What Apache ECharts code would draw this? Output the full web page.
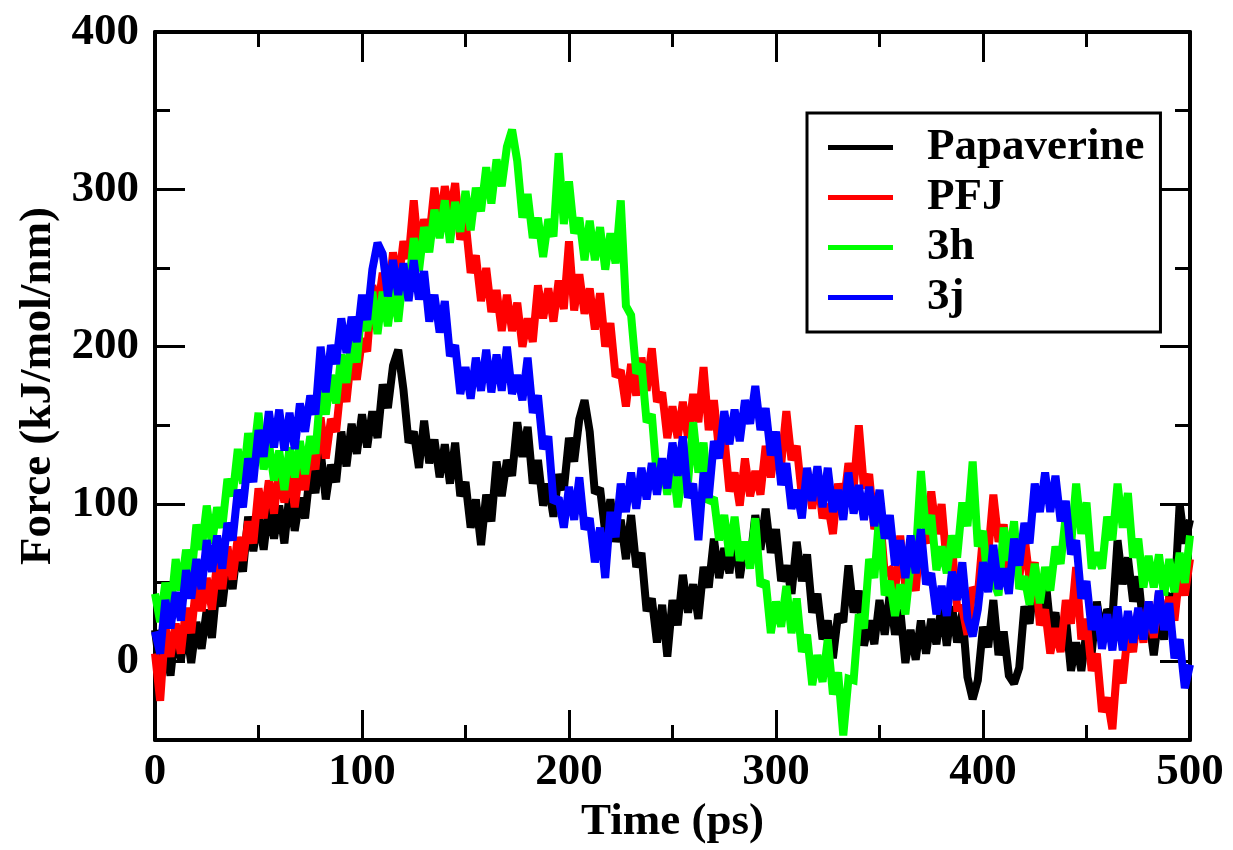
<!DOCTYPE html>
<html>
<head>
<meta charset="utf-8">
<script src="https://cdn.jsdelivr.net/npm/echarts@6/dist/echarts.min.js"></script>
<style>
html,body{margin:0;padding:0;background:#fff;}
#chart{width:1233px;height:850px;}
</style>
</head>
<body>
<div id="chart"></div>
<script>
// Sampling step of the time axis (ps)
const STEP = 2.5;
const SERIES_NAMES = ["Papaverine", "PFJ", "3h", "3j"];
const Y_MAJOR = [0, 100, 200, 300, 400];
const Y_MINOR = [50, 150, 250, 350];

const PAPAVERINE = [
20,-6,11,-9,22,1,22,-1,25,8,
33,15,50,35,63,46,75,57,92,70,
92,71,99,78,99,75,107,83,104,91,
122,107,134,103,125,114,146,124,151,132,
157,136,159,142,176,161,188,198,173,139,
146,123,153,126,141,117,138,113,139,105,
114,85,103,74,106,89,127,105,128,118,
152,130,149,113,128,99,113,92,119,109,
142,127,154,166,146,107,110,82,103,76,
90,65,93,60,69,32,40,12,36,3,
39,23,55,31,49,27,60,47,78,53,
72,56,82,53,75,63,93,71,97,69,
84,51,61,43,76,51,68,31,43,14,
26,2,30,25,61,31,45,10,26,11,
39,17,43,17,33,-1,20,1,26,5,
27,11,36,10,35,12,31,-10,-24,-12,
22,9,39,4,19,-9,-14,-4,35,24,
53,28,55,22,31,7,28,-6,12,-6,
19,5,38,15,33,27,77,49,66,38,
54,21,29,4,30,14,41,39,100,75,
90];

const PFJ = [
5,-25,22,3,24,5,34,18,50,32,
53,33,63,46,73,52,79,64,89,75,
110,91,115,94,123,101,121,98,123,109,
135,122,155,129,154,146,179,165,197,179,
205,197,239,223,247,229,260,239,267,256,
293,257,281,269,301,277,302,283,304,268,
280,247,258,229,250,222,236,210,233,210,
228,200,218,203,239,218,237,216,242,224,
267,223,246,221,237,211,234,200,215,181,
185,162,189,169,193,172,199,165,171,142,
162,142,165,142,170,152,187,147,166,134,
143,108,120,99,129,105,121,106,137,117,
140,125,159,128,137,105,122,97,120,91,
100,81,113,98,126,110,150,110,119,84,
97,56,58,44,80,47,56,45,83,75,
108,81,100,61,74,34,34,17,47,42,
80,68,106,76,87,56,74,53,80,52,
63,23,33,5,21,6,39,24,60,14,
27,-6,5,-32,-23,-43,1,-14,20,6,
33,12,38,15,44,22,41,26,57,42,
65];

const C3H = [
43,25,50,31,65,45,71,53,87,71,
99,75,98,85,116,105,135,113,145,129,
158,122,139,115,134,109,136,117,140,119,
143,132,173,157,182,164,195,177,206,190,
228,210,235,208,235,213,237,216,247,236,
269,248,276,260,287,269,293,266,292,273,
299,274,301,286,314,291,319,302,327,338,
318,282,297,269,282,257,281,270,323,278,
305,272,282,255,280,255,276,249,272,253,
293,226,220,183,189,152,157,116,128,106,
128,98,119,114,152,120,139,101,104,77,
93,67,92,64,76,59,91,48,51,18,
38,22,48,18,40,6,17,-15,4,-13,
14,-21,-7,-47,-11,-12,30,21,65,53,
95,42,51,29,49,30,61,66,121,81,
93,58,73,56,80,66,101,86,127,73,
83,46,52,42,85,64,89,46,54,36,
62,37,60,45,73,62,93,73,113,81,
101,59,69,59,92,77,113,85,107,66,
78,47,67,47,68,42,65,44,69,50,
80];

const C3J = [
19,5,39,21,44,26,58,40,65,46,
77,57,80,59,88,77,109,98,129,114,
147,130,159,136,160,134,158,135,164,146,
169,157,200,171,201,189,218,196,219,203,
233,217,249,266,259,232,255,233,253,229,
255,230,248,216,233,209,229,194,201,170,
187,167,193,172,198,171,195,172,200,170,
182,166,193,158,169,135,143,101,104,85,
111,90,117,84,91,63,85,53,95,79,
113,95,120,97,123,103,126,106,129,110,
139,118,143,104,113,77,120,104,140,129,
159,138,160,140,166,151,175,147,161,131,
146,112,126,97,109,91,123,102,124,98,
123,95,109,90,120,94,112,90,111,86,
109,78,93,61,77,53,80,56,84,49,
56,30,48,29,57,39,63,27,16,33,
63,44,74,46,59,43,78,61,88,75,
113,95,120,95,118,89,102,68,77,40,
51,20,35,8,30,7,35,7,32,12,
34,14,38,18,45,20,37,2,14,-17,
-2];

const VALUES = [PAPAVERINE, PFJ, C3H, C3J];
const COLORS = ["#000000", "#ff0000", "#00ff00", "#0000ff"];

const FONT = "'Liberation Serif', 'Times New Roman', serif";

function pairs(arr) { return arr.map((v, i) => [i * STEP, v]); }

const chart = echarts.init(document.getElementById('chart'), null, {renderer: 'canvas'});

const axisLine = {show: true, onZero: false, lineStyle: {color: '#000', width: 4}};
const tickStyle = {color: '#000', width: 3};

function xAxisDef(pos, showLabel) {
  return {
    type: 'value', position: pos, min: 0, max: 500, interval: 100,
    axisLine: axisLine,
    axisTick: {show: true, inside: true, length: 30, lineStyle: tickStyle},
    minorTick: {show: true, splitNumber: 2, length: 15, lineStyle: tickStyle},
    splitLine: {show: false}, minorSplitLine: {show: false},
    axisLabel: {show: showLabel, margin: 10, color: '#000', fontFamily: FONT, fontWeight: 'bold', fontSize: 45},
    name: showLabel ? 'Time (ps)' : '', nameLocation: 'middle', nameGap: 44,
    nameTextStyle: {color: '#000', fontFamily: FONT, fontWeight: 'bold', fontSize: 45}
  };
}
function yAxisDef(pos, major, showLabel, lineShow) {
  return {
    type: 'value', position: pos, min: -50, max: 400,
    axisLine: Object.assign({}, axisLine, {show: lineShow}),
    axisTick: {show: true, inside: true, length: major ? 30 : 15, customValues: major ? Y_MAJOR : Y_MINOR, lineStyle: tickStyle},
    splitLine: {show: false},
    axisLabel: {show: showLabel, customValues: Y_MAJOR, margin: 16, color: '#000', fontFamily: FONT, fontWeight: 'bold', fontSize: 45},
    name: showLabel ? 'Force (kJ/mol/nm)' : '', nameLocation: 'middle', nameGap: 92, nameRotate: 90,
    nameTextStyle: {color: '#000', fontFamily: FONT, fontWeight: 'bold', fontSize: 45}
  };
}

const option = {
  animation: false,
  backgroundColor: '#ffffff',
  grid: {left: 155, right: 43, top: 32, bottom: 108, containLabel: false},
  xAxis: [xAxisDef('bottom', true), xAxisDef('top', false)],
  yAxis: [
    yAxisDef('left', true, true, true),
    yAxisDef('right', true, false, true),
    yAxisDef('left', false, false, false),
    yAxisDef('right', false, false, false)
  ],
  legend: {
    show: true, orient: 'vertical', left: 807, top: 113,
    padding: [12, 16, 12, 21],
    itemGap: 5, itemWidth: 65, itemHeight: 5,
    icon: 'rect',
    borderColor: '#000', borderWidth: 3, borderRadius: 0,
    backgroundColor: '#fff',
    textStyle: {color: '#000', fontFamily: FONT, fontWeight: 'bold', fontSize: 45, padding: [0, 0, 0, 29]},
    data: SERIES_NAMES
  },
  series: SERIES_NAMES.map((name, k) => ({
    name: name, type: 'line', xAxisIndex: 0, yAxisIndex: 0,
    data: pairs(VALUES[k]),
    showSymbol: false, symbol: 'none', smooth: false,
    lineStyle: {color: COLORS[k], width: 8, join: 'miter', miterLimit: 2},
    itemStyle: {color: COLORS[k]},
    z: 2 + k
  }))
};
chart.setOption(option);
</script>
</body>
</html>
